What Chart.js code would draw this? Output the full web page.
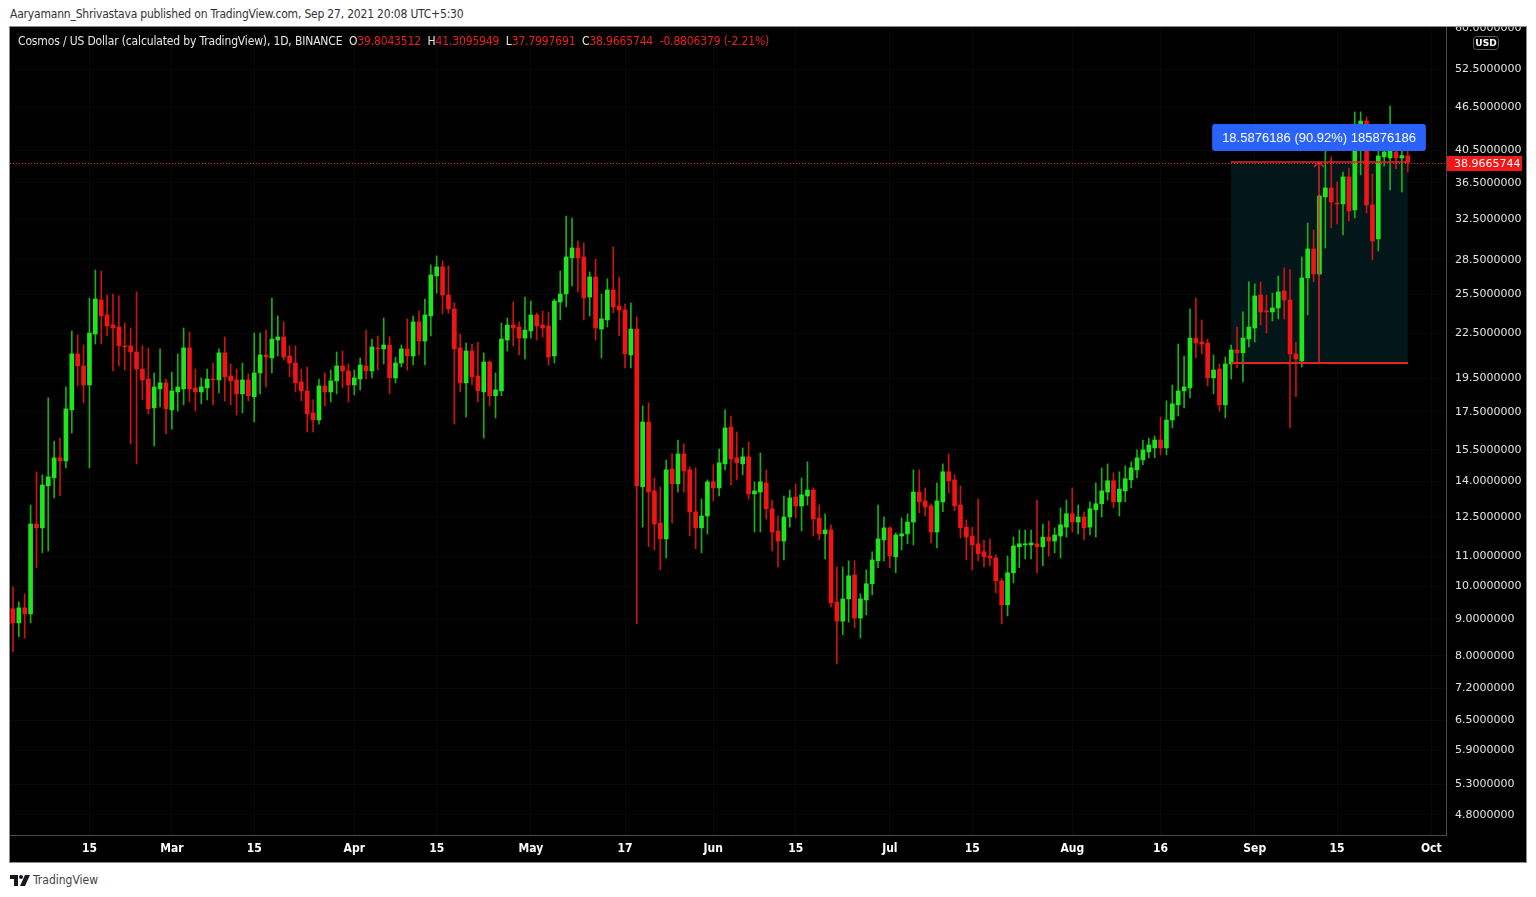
<!DOCTYPE html>
<html>
<head>
<meta charset="utf-8">
<script src="https://cdn.jsdelivr.net/npm/chart.js@4.4.1/dist/chart.umd.min.js"></script>
<style>
  body { margin: 0; background: #fff; width: 1536px; height: 897px; position: relative; overflow: hidden;
         font-family: 'Liberation Sans Narrow', 'DejaVu Sans Condensed', 'Liberation Sans', sans-serif; }
  #pub { position: absolute; left: 10px; top: 7px; font-size: 12px; line-height: 14px; color: #333; letter-spacing: -0.2px; }
  #box { position: absolute; left: 10px; top: 27px; width: 1516px; height: 835px; background: #000; outline: 1px solid #8c8c8c; }
  #c { position: absolute; left: 0; top: 0; }
  #legend { position: absolute; left: 8px; top: 7px; font-size: 12px; line-height: 14px; color: #e8e8e8; white-space: pre; letter-spacing: -0.15px; }
  #legend .v { color: #f01e1e; }
  #foot { position: absolute; left: 10px; top: 873px; font-size: 12px; line-height: 14px; color: #444; display: flex; align-items: center; gap: 3px; }
</style>
</head>
<body>
<div id="pub">Aaryamann_Shrivastava published on TradingView.com, Sep 27, 2021 20:08 UTC+5:30</div>
<div id="box">
  <canvas id="c" width="1516" height="835"></canvas>
  <div id="legend">Cosmos / US Dollar (calculated by TradingView), 1D, BINANCE  O<span class="v">39.8043512</span>  H<span class="v">41.3095949</span>  L<span class="v">37.7997691</span>  C<span class="v">38.9665744</span>  <span class="v">-0.8806379 (-2.21%)</span></div>
</div>
<div id="foot">
  <svg width="20" height="11" viewBox="0 0 20 11"><path d="M0 0h8v11H4V4H0z" fill="#131722"/><circle cx="11" cy="2" r="2" fill="#131722"/><path d="M15 0h5l-5 11h-5z" fill="#131722"/></svg>
  <span>TradingView</span>
</div>
<script>
// daily ATOM/USD candles, Feb 2 .. Sep 27 2021
const firstDay = '2021-02-02';
const slotCount = 244; // axis runs a few empty days past the last candle

const opens = [
  9.30, 8.89, 9.33, 9.15, 12.21, 12.06, 13.80, 14.16, 15.10, 14.95,
  17.61, 21.08, 20.28, 19.08, 22.47, 25.06, 23.89, 23.13, 22.98, 21.63,
  21.63, 21.21, 20.08, 19.45, 17.73, 18.84, 19.21, 17.61, 18.66, 18.84,
  21.49, 18.90, 18.66, 18.90, 19.45, 19.39, 21.15, 19.64, 19.39, 18.54,
  19.39, 18.37, 19.83, 21.01, 20.81, 22.04, 22.26, 20.94, 20.47, 19.27,
  18.72, 17.44, 17.05, 19.02, 18.66, 19.33, 20.28, 19.96, 19.08, 19.45,
  20.28, 19.96, 21.49, 21.42, 21.69, 19.52, 20.47, 21.42, 20.94, 23.36,
  21.97, 23.81, 27.07, 27.87, 25.47, 24.35, 21.49, 19.21, 21.28, 19.64,
  18.66, 20.54, 18.43, 18.72, 22.04, 23.13, 22.98, 22.18, 22.69, 23.89,
  23.13, 23.06, 20.94, 24.90, 25.55, 28.69, 29.62, 28.78, 25.30, 26.99,
  22.83, 23.51, 25.88, 24.58, 24.27, 21.01, 22.83, 13.76, 16.94, 13.58,
  12.25, 11.64, 14.57, 13.89, 15.29, 14.53, 12.70, 12.06, 12.53, 13.98,
  13.71, 14.81, 16.67, 15.10, 14.81, 15.15, 13.45, 13.53, 13.93, 12.82,
  11.94, 11.56, 12.49, 13.32, 12.94, 13.36, 13.62, 12.45, 11.83, 11.98,
  9.51, 8.94, 9.60, 10.37, 9.03, 9.57, 10.08, 10.85, 11.60, 12.06,
  10.99, 11.75, 11.83, 12.29, 13.53, 13.15, 12.94, 11.90, 13.11, 14.44,
  14.07, 12.98, 12.09, 11.75, 11.46, 11.17, 11.02, 10.95, 10.18, 9.42,
  10.44, 11.35, 11.42, 11.42, 11.46, 11.35, 11.71, 11.56, 11.75, 12.09,
  12.62, 12.29, 12.49, 12.09, 12.78, 13.03, 13.53, 14.03, 13.11, 13.58,
  14.07, 14.53, 15.00, 15.39, 15.59, 15.99, 15.59, 17.05, 17.90, 18.72,
  18.90, 22.18, 21.90, 21.83, 19.52, 20.08, 17.90, 20.41, 21.35, 21.15,
  22.11, 22.91, 25.47, 24.19, 24.12, 24.43, 25.80, 25.06, 21.08, 20.61,
  26.90, 29.53, 27.25, 34.89, 35.91, 34.22, 34.11, 37.20, 33.46, 40.83,
  44.52, 34.00, 30.49, 39.67, 39.54, 40.31, 39.54, 39.8043512
];
const highs = [
  9.98, 9.51, 9.76, 12.98, 14.44, 14.30, 18.31, 15.94, 16.09, 18.96,
  22.69, 22.40, 21.69, 25.22, 27.60, 27.51, 25.47, 25.55, 25.39, 23.28,
  22.91, 25.72, 21.63, 21.49, 19.83, 21.42, 19.45, 19.89, 21.08, 22.91,
  22.62, 20.08, 19.52, 20.08, 20.47, 21.42, 22.26, 20.41, 20.08, 20.47,
  19.77, 22.54, 22.54, 22.76, 25.22, 23.81, 23.36, 21.63, 21.63, 20.08,
  20.21, 18.19, 19.45, 19.83, 20.02, 21.21, 21.28, 20.41, 20.02, 20.81,
  22.76, 22.11, 22.33, 23.66, 22.26, 20.87, 21.69, 23.59, 23.81, 24.19,
  25.14, 28.05, 28.87, 28.41, 27.96, 24.82, 22.47, 21.83, 21.76, 21.90,
  21.15, 20.61, 19.83, 23.28, 23.66, 24.90, 23.36, 25.30, 24.98, 24.04,
  24.19, 24.12, 25.14, 27.51, 32.82, 32.61, 30.29, 30.10, 27.43, 28.59,
  25.55, 26.82, 29.72, 26.99, 24.74, 24.82, 23.74, 17.84, 18.02, 14.16,
  13.76, 15.00, 15.29, 15.99, 15.79, 14.67, 14.62, 13.23, 14.07, 14.77,
  15.54, 17.61, 17.27, 16.41, 15.59, 15.89, 13.98, 15.34, 14.53, 13.19,
  12.53, 13.36, 13.62, 13.89, 14.16, 14.91, 13.71, 12.98, 12.62, 12.18,
  10.64, 10.64, 10.85, 10.85, 9.76, 10.54, 11.17, 12.98, 12.49, 12.10,
  11.87, 12.45, 12.62, 14.53, 14.53, 13.71, 13.03, 13.93, 14.81, 15.29,
  14.30, 13.80, 12.37, 12.09, 13.23, 11.60, 11.64, 11.06, 10.25, 11.02,
  11.71, 11.98, 11.98, 11.98, 13.19, 12.21, 12.33, 12.06, 12.86, 13.19,
  13.71, 12.98, 12.70, 13.11, 13.93, 14.62, 14.81, 14.39, 14.44, 14.72,
  14.91, 15.49, 15.99, 16.09, 16.20, 17.22, 18.13, 19.08, 21.76, 20.94,
  24.35, 25.22, 23.51, 22.11, 21.01, 20.41, 20.87, 21.69, 22.98, 24.12,
  26.56, 26.39, 26.56, 25.47, 25.63, 27.07, 27.78, 27.60, 21.90, 28.78,
  32.09, 31.38, 35.11, 40.97, 39.67, 36.61, 37.80, 38.29, 45.83, 45.83,
  45.10, 37.56, 40.57, 43.67, 46.72, 41.63, 41.63, 41.3095949
];
const lows = [
  8.10, 8.50, 8.47, 8.89, 10.61, 11.13, 11.20, 13.28, 13.36, 14.62,
  16.35, 19.02, 18.02, 14.62, 21.76, 21.76, 22.33, 19.96, 20.28, 20.02,
  15.79, 14.81, 18.19, 17.39, 15.69, 17.78, 16.30, 16.56, 17.55, 17.90,
  18.07, 17.55, 17.96, 18.19, 17.90, 18.60, 18.13, 17.90, 17.33, 17.44,
  18.13, 16.94, 18.54, 18.96, 19.83, 20.94, 20.67, 19.58, 18.66, 18.13,
  16.41, 16.41, 16.83, 17.84, 18.07, 18.54, 18.90, 18.07, 18.48, 18.78,
  19.45, 19.52, 20.02, 20.41, 18.54, 19.21, 20.21, 20.02, 20.34, 21.01,
  20.34, 22.33, 25.63, 23.97, 24.04, 16.83, 18.66, 17.22, 19.08, 18.07,
  16.09, 17.84, 17.16, 18.43, 21.28, 21.63, 21.01, 20.74, 22.18, 22.04,
  22.26, 20.34, 20.47, 23.51, 24.51, 26.22, 25.72, 23.51, 23.81, 22.04,
  20.81, 22.98, 24.04, 22.33, 20.15, 20.15, 8.86, 12.09, 11.35, 11.24,
  10.54, 10.95, 12.25, 13.53, 13.53, 11.75, 11.28, 11.13, 11.83, 13.15,
  13.36, 14.53, 13.84, 14.07, 14.30, 13.23, 11.90, 11.90, 12.41, 11.20,
  10.64, 10.88, 12.09, 12.45, 11.94, 12.98, 11.75, 11.60, 10.92, 9.36,
  7.79, 8.56, 8.91, 8.75, 8.47, 9.12, 9.73, 10.61, 10.85, 10.61,
  10.44, 11.24, 11.46, 11.42, 12.66, 12.53, 11.49, 11.31, 12.70, 13.49,
  12.74, 11.68, 10.88, 10.54, 10.85, 10.64, 10.68, 9.79, 8.86, 9.09,
  10.11, 10.61, 10.92, 10.92, 10.44, 10.68, 11.02, 11.13, 10.95, 11.71,
  11.90, 11.83, 11.60, 11.79, 11.71, 12.49, 13.19, 12.86, 12.53, 13.11,
  13.71, 14.16, 14.77, 15.10, 15.10, 15.25, 15.25, 16.62, 17.27, 17.73,
  18.31, 20.81, 21.08, 19.02, 18.54, 17.55, 17.16, 19.45, 20.15, 19.27,
  21.56, 21.90, 23.13, 22.54, 23.43, 23.59, 23.59, 16.62, 18.37, 20.21,
  23.89, 26.56, 27.16, 29.62, 31.58, 31.99, 30.89, 32.30, 32.61, 37.44,
  33.14, 28.50, 29.34, 38.54, 35.68, 38.16, 35.45, 37.7997691
];
const closes = [
  8.89, 9.33, 9.15, 12.21, 12.06, 13.84, 14.21, 15.10, 14.95, 17.67,
  21.08, 20.28, 19.08, 22.54, 25.14, 23.81, 23.06, 22.91, 21.63, 21.56,
  21.21, 20.08, 19.39, 17.67, 18.96, 19.21, 17.67, 18.72, 18.96, 21.49,
  18.84, 18.66, 18.96, 19.45, 19.39, 21.15, 19.58, 19.33, 18.54, 19.39,
  18.43, 19.83, 21.01, 20.87, 22.11, 22.26, 20.87, 20.47, 19.21, 18.72,
  17.39, 17.05, 19.02, 18.66, 19.33, 20.28, 19.96, 19.08, 19.52, 20.34,
  19.96, 21.56, 21.42, 21.69, 19.52, 20.47, 21.42, 20.94, 23.36, 21.97,
  23.89, 27.16, 27.87, 25.47, 24.35, 21.42, 19.21, 21.28, 19.58, 18.72,
  20.54, 18.43, 18.78, 22.11, 23.13, 22.91, 22.18, 22.76, 23.89, 23.06,
  22.91, 20.87, 24.98, 25.55, 28.78, 29.62, 28.69, 25.22, 26.99, 22.91,
  23.59, 25.88, 24.51, 24.27, 21.08, 22.83, 13.80, 16.94, 13.53, 12.21,
  11.64, 14.53, 13.89, 15.29, 14.48, 12.70, 12.06, 12.53, 13.98, 13.71,
  14.86, 16.62, 15.05, 14.86, 15.15, 13.45, 13.58, 13.98, 12.82, 11.90,
  11.56, 12.49, 13.28, 12.94, 13.41, 13.62, 12.41, 11.83, 11.98, 9.48,
  8.94, 9.60, 10.34, 9.03, 9.60, 10.08, 10.88, 11.64, 12.06, 11.02,
  11.79, 11.83, 12.29, 13.53, 13.11, 12.90, 11.90, 13.15, 14.44, 14.03,
  12.94, 12.06, 11.71, 11.42, 11.10, 10.99, 10.95, 10.18, 9.42, 10.44,
  11.38, 11.46, 11.46, 11.49, 11.35, 11.71, 11.56, 11.79, 12.18, 12.62,
  12.29, 12.49, 12.06, 12.82, 13.03, 13.58, 14.03, 13.11, 13.66, 14.12,
  14.62, 15.10, 15.49, 15.74, 15.99, 15.59, 17.05, 17.96, 18.72, 18.96,
  22.18, 21.83, 21.76, 19.52, 20.02, 17.90, 20.41, 21.35, 21.15, 22.18,
  22.98, 25.39, 24.12, 24.12, 24.43, 25.72, 25.06, 21.08, 20.74, 26.90,
  29.53, 27.25, 35.00, 35.91, 34.33, 34.11, 37.20, 33.35, 40.83, 44.52,
  34.00, 30.29, 39.80, 40.31, 40.97, 39.54, 39.85, 38.9665744
];

const yTicks = [4.8, 5.3, 5.9, 6.5, 7.2, 8, 9, 10, 11, 12.5, 14, 15.5, 17.5, 19.5, 22.5, 25.5, 28.5, 32.5, 36.5, 40.5, 46.5, 52.5, 60];
const tickDates = ['2021-02-15', '2021-03-01', '2021-03-15', '2021-04-01', '2021-04-15', '2021-05-01', '2021-05-17', '2021-06-01',
                   '2021-06-15', '2021-07-01', '2021-07-15', '2021-08-01', '2021-08-16', '2021-09-01', '2021-09-15', '2021-10-01'];
const tickTexts = ['15', 'Mar', '15', 'Apr', '15', 'May', '17', 'Jun', '15', 'Jul', '15', 'Aug', '16', 'Sep', '15', 'Oct'];

// price range measurement drawn on the chart
const measureFrom = '2021-08-28', measureTo = '2021-09-27', measureAt = '2021-09-12';
const measureLow = 20.444, measureHigh = 39.032;
const measureText = '18.5876186 (90.92%) 185876186';
const lastPrice = 38.9665744;

const labels = [];
const t0 = Date.parse(firstDay + 'T00:00:00Z');
for (let i = 0; i < slotCount; i++) labels.push(new Date(t0 + i * 864e5).toISOString().slice(0, 10));

const UP = '#1de61d', DOWN = '#f01414', UP_WICK = '#17b017', DOWN_WICK = '#cc1212';
const isUp = opens.map((o, i) => closes[i] >= o);
const bodies = opens.map((o, i) => [o, closes[i]]);
const wicks = lows.map((l, i) => [l, highs[i]]);

const tickText = i => { const k = tickDates.indexOf(labels[i]); return k < 0 ? '' : tickTexts[k]; };
const GRID = 'rgba(255,255,255,0.03)';

const overlay = {
  id: 'overlay',
  beforeDatasetsDraw(chart) {
    const { ctx, scales: { x, y } } = chart;
    const x0 = x.getPixelForValue(labels.indexOf(measureFrom));
    const x1 = x.getPixelForValue(labels.indexOf(measureTo));
    const yt = y.getPixelForValue(measureHigh), yb = y.getPixelForValue(measureLow);
    ctx.save();
    ctx.fillStyle = '#03171b';
    ctx.fillRect(x0, yt, x1 - x0, yb - yt);
    ctx.restore();
  },
  afterDatasetsDraw(chart) {
    const { ctx, chartArea, scales: { x, y } } = chart;
    const x0 = Math.round(x.getPixelForValue(labels.indexOf(measureFrom)));
    const x1 = Math.round(x.getPixelForValue(labels.indexOf(measureTo)));
    const xm = Math.round(x.getPixelForValue(labels.indexOf(measureAt)));
    const yt = Math.round(y.getPixelForValue(measureHigh));
    const yb = Math.round(y.getPixelForValue(measureLow));
    ctx.save();
    ctx.strokeStyle = '#e42222';
    ctx.lineWidth = 2;
    ctx.beginPath();
    ctx.moveTo(x0, yb); ctx.lineTo(x1, yb);
    ctx.stroke();
    ctx.lineWidth = 1.5;
    ctx.beginPath();
    ctx.moveTo(x0, yt); ctx.lineTo(x1, yt);
    ctx.moveTo(xm, yb); ctx.lineTo(xm, yt);
    ctx.moveTo(xm - 5, yt + 5); ctx.lineTo(xm, yt); ctx.lineTo(xm + 5, yt + 5);
    ctx.stroke();

    // last price line
    const yp = Math.round(y.getPixelForValue(lastPrice)) + 0.5;
    ctx.strokeStyle = '#ff2a2a';
    ctx.lineWidth = 1;
    ctx.setLineDash([1, 2]);
    ctx.beginPath();
    ctx.moveTo(chartArea.left, yp); ctx.lineTo(chartArea.right, yp);
    ctx.stroke();
    ctx.setLineDash([]);

    // measurement label
    ctx.font = '13px "Liberation Sans", sans-serif';
    const w = ctx.measureText(measureText).width + 20, h = 27;
    const lx = xm - w / 2, ly = yt - 11 - h;
    ctx.fillStyle = '#2962ff';
    ctx.beginPath();
    ctx.roundRect(lx, ly, w, h, 3);
    ctx.fill();
    ctx.fillStyle = '#ffffff';
    ctx.textAlign = 'center';
    ctx.textBaseline = 'middle';
    ctx.fillText(measureText, xm, ly + h / 2 + 1);
    ctx.restore();
  },
  afterDraw(chart) {
    const { ctx, scales: { y } } = chart;
    const yp = Math.round(y.getPixelForValue(lastPrice));
    ctx.save();
    ctx.fillStyle = '#f21818';
    ctx.fillRect(y.left + 1, yp - 7, 75, 15);
    ctx.fillStyle = '#ffffff';
    ctx.font = '11px "DejaVu Sans", sans-serif';
    ctx.textBaseline = 'middle';
    ctx.fillText(lastPrice.toFixed(7), y.left + 8, yp + 1);

    // currency badge under the top tick
    ctx.strokeStyle = '#5a5a5a';
    ctx.fillStyle = '#000';
    ctx.beginPath();
    ctx.roundRect(y.left + 27.5, 9.5, 25, 13, 3);
    ctx.fill(); ctx.stroke();
    ctx.fillStyle = '#ffffff';
    ctx.font = 'bold 9px "DejaVu Sans", sans-serif';
    ctx.textAlign = 'center';
    ctx.fillText('USD', y.left + 40, 16.5);
    ctx.restore();
  }
};

new Chart(document.getElementById('c'), {
  type: 'bar',
  data: {
    labels,
    datasets: [
      { data: bodies, backgroundColor: isUp.map(u => u ? UP : DOWN), barThickness: 4, minBarLength: 1, grouped: false, borderWidth: 0 },
      { data: wicks, backgroundColor: isUp.map(u => u ? UP_WICK : DOWN_WICK), barThickness: 1, grouped: false, borderWidth: 0 }
    ]
  },
  options: {
    responsive: false, animation: false, devicePixelRatio: 1,
    layout: { padding: 0 },
    plugins: { legend: { display: false }, tooltip: { enabled: false } },
    scales: {
      x: {
        offset: true,
        grid: { offset: false, drawTicks: false, color: c => (c.tick && tickText(c.tick.value)) ? GRID : 'rgba(0,0,0,0)' },
        border: { color: '#4a4a4a' },
        ticks: {
          autoSkip: false, maxRotation: 0, padding: 7, color: '#ffffff',
          font: { family: "'Liberation Sans Narrow', 'DejaVu Sans Condensed', 'Liberation Sans', sans-serif", size: 12, weight: 'bold' },
          callback: (v, i) => tickText(i)
        },
        afterFit: s => { s.height = 27; s.paddingLeft = 0; s.paddingRight = 0; }
      },
      y: {
        type: 'logarithmic', position: 'right', min: 4.5, max: 60.2, bounds: 'data',
        grid: { drawTicks: false, color: GRID },
        border: { color: '#4a4a4a' },
        ticks: {
          padding: 9, color: '#e3e3e3',
          font: { family: "'DejaVu Sans', sans-serif", size: 11 },
          callback: v => Number(v).toFixed(7)
        },
        afterBuildTicks: s => { s.ticks = yTicks.map(v => ({ value: v })); },
        afterFit: s => { s.width = 80; s.paddingTop = 0; s.paddingBottom = 0; }
      }
    }
  },
  plugins: [overlay]
});
</script>
</body>
</html>
